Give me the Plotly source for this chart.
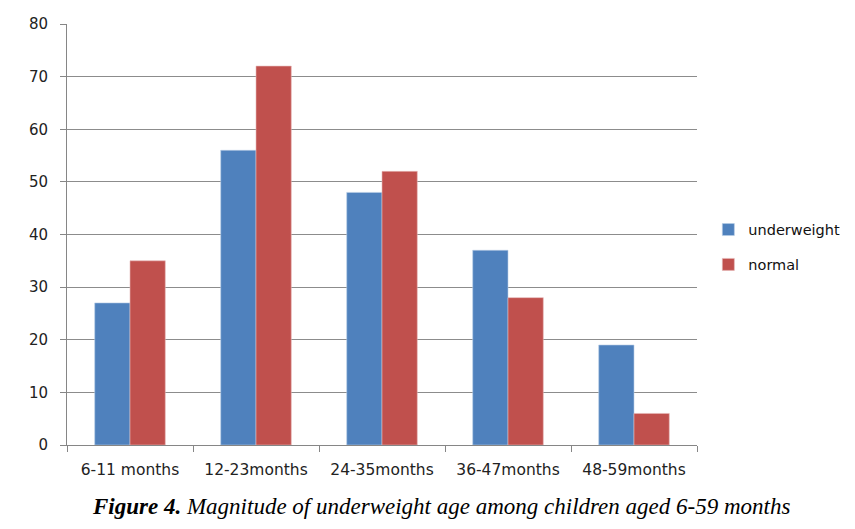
import plotly.graph_objects as go

categories = ["6-11 months", "12-23months", "24-35months", "36-47months", "48-59months"]
underweight = [27, 56, 48, 37, 19]
normal = [35, 72, 52, 28, 6]
y_ticks = [0, 10, 20, 30, 40, 50, 60, 70, 80]

fig = go.Figure()
fig.add_trace(go.Bar(x=categories, y=underweight, name="underweight", legendgroup="a",
                     marker=dict(color="#4F81BD", line=dict(color="#B9CDE5", width=0.6))))
fig.add_trace(go.Bar(x=categories, y=normal, name="normal", legendgroup="b",
                     marker=dict(color="#C0504D", line=dict(color="#E6B9B8", width=0.6))))

fig.update_layout(
    width=847, height=521,
    margin=dict(l=59, r=158, t=16, b=84, autoexpand=False),
    paper_bgcolor="white", plot_bgcolor="white",
    barmode="group", bargap=0.44, bargroupgap=0,
    font=dict(family="DejaVu Sans", size=13, color="#222"),
    legend=dict(x=1.018, y=0.47, xanchor="left", yanchor="middle",
                font=dict(size=14.5, color="#111"), tracegroupgap=13,
                itemwidth=30),
    xaxis=dict(showline=True, linecolor="#868686", linewidth=1, automargin=False,
               ticks="outside", tickson="boundaries", ticklen=6, tickcolor="#868686",
               ticklabelstandoff=10,
               tickfont=dict(size=15.5, color="#222"), showgrid=False),
    yaxis=dict(range=[0, 80], tickvals=y_ticks, showline=True, linecolor="#868686", linewidth=1,
               automargin=False,
               ticks="outside", ticklen=6, tickcolor="#868686", ticklabelstandoff=9,
               showgrid=True, gridcolor="#8c8c8c", gridwidth=1,
               tickfont=dict(size=15, color="#222"), zeroline=False),
    annotations=[dict(
        text="<b><i>Figure 4.</i></b><i> Magnitude of underweight age among children aged 6-59 months</i>",
        xref="paper", yref="paper", x=0.594, y=-0.145, xanchor="center", yanchor="middle",
        showarrow=False, font=dict(family="Liberation Serif", size=23, color="#000"))],
)

fig.write_html("out.html")
